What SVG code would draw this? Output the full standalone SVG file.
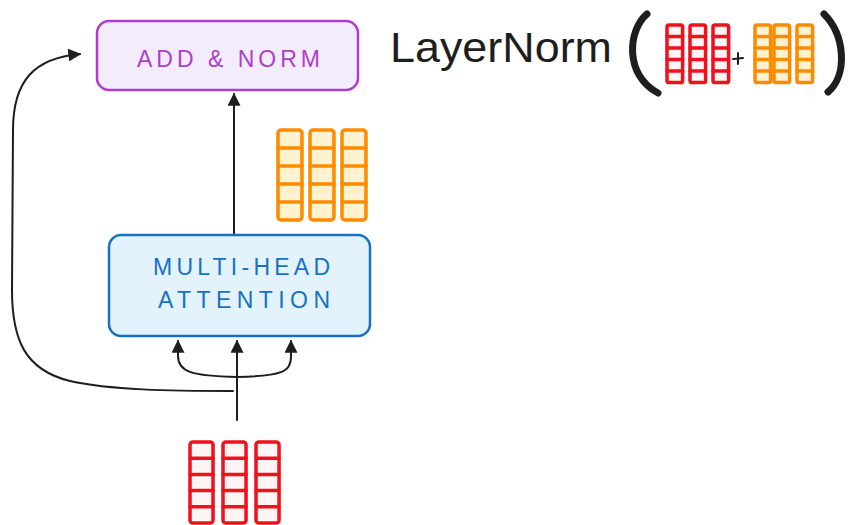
<svg xmlns="http://www.w3.org/2000/svg" width="849" height="525" viewBox="0 0 849 525">
<style>
.hand{font-family:"Liberation Sans","DejaVu Sans",sans-serif;}
.conn{fill:none;stroke:#1e1e1e;stroke-width:2;stroke-linecap:round;}
.red{fill:#fff5f5;stroke:#f0101e;}
.org{fill:#fff3cf;stroke:#fd8a00;}
.col{stroke-width:3.5;stroke-linecap:round;}
</style>
<defs>
<marker id="ah" viewBox="0 0 10 10" refX="9" refY="5" markerWidth="13" markerHeight="13" markerUnits="userSpaceOnUse" orient="auto">
<path d="M0,0 L10,5 L0,10 Z" fill="#1e1e1e"/>
</marker>
<g id="col" class="col">
<rect x="0" y="0" width="24" height="90" rx="3" vector-effect="non-scaling-stroke"/>
<line x1="0" y1="18" x2="24" y2="18" vector-effect="non-scaling-stroke"/>
<line x1="0" y1="36" x2="24" y2="36" vector-effect="non-scaling-stroke"/>
<line x1="0" y1="54" x2="24" y2="54" vector-effect="non-scaling-stroke"/>
<line x1="0" y1="72" x2="24" y2="72" vector-effect="non-scaling-stroke"/>
</g>
</defs>

<g id="connectors">
<path class="conn" d="M234 235 L234 94" stroke-width="3" marker-end="url(#ah)"/>
<path class="conn" d="M237 420 L237 341" marker-end="url(#ah)"/>
<path class="conn" d="M237 377 C192 376 178 372 178 356 L178 341" marker-end="url(#ah)"/>
<path class="conn" d="M237 377 C282 376 291 372 291 356 L291 341" marker-end="url(#ah)"/>
<path class="conn" d="M233 391 C170 391 110 390 70 381 C25 370 12 340 12 290 L13 130 C13 80 35 58 80 54" marker-end="url(#ah)"/>
</g>

<g id="add-norm">
<rect x="97" y="21" width="261" height="69" rx="12" fill="#f3ecfd" stroke="#ae3ec9" stroke-width="2.5"/>
<text class="hand" x="137" y="67" font-size="23" fill="#ae3ec9" textLength="183" lengthAdjust="spacing">ADD &amp; NORM</text>
</g>

<g id="multi-head-attention">
<rect x="109" y="235" width="261" height="101" rx="12" fill="#e3f3fd" stroke="#1971c2" stroke-width="2.5"/>
<text class="hand" x="153" y="275" font-size="23" fill="#1971c2" textLength="177" lengthAdjust="spacing">MULTI-HEAD</text>
<text class="hand" x="158" y="308" font-size="23" fill="#1971c2" textLength="172" lengthAdjust="spacing">ATTENTION</text>
</g>

<g id="attention-output">
<use href="#col" class="org" transform="translate(278,130)"/>
<use href="#col" class="org" transform="translate(310,130)"/>
<use href="#col" class="org" transform="translate(342,130)"/>
</g>

<g id="input-embeddings">
<use href="#col" class="red" transform="translate(190,442) scale(0.96,0.9)"/>
<use href="#col" class="red" transform="translate(223,442) scale(0.96,0.9)"/>
<use href="#col" class="red" transform="translate(256,442) scale(0.96,0.9)"/>
</g>

<g id="layernorm-formula">
<text class="hand" x="390" y="62" font-size="42" fill="#1e1e1e" textLength="222" lengthAdjust="spacingAndGlyphs">LayerNorm</text>
<path d="M647 14 C628 30 624 75 658 93" fill="none" stroke="#1e1e1e" stroke-width="7" stroke-linecap="round"/>
<path d="M824 14 C845 35 848 75 828 92" fill="none" stroke="#1e1e1e" stroke-width="7" stroke-linecap="round"/>
<use href="#col" class="red" transform="translate(667,25) scale(0.65,0.64)"/>
<use href="#col" class="red" transform="translate(690,25) scale(0.65,0.64)"/>
<use href="#col" class="red" transform="translate(713,25) scale(0.65,0.64)"/>
<path d="M733 59 L743 58 M738 53 L738 64" fill="none" stroke="#1e1e1e" stroke-width="2" stroke-linecap="round"/>
<use href="#col" class="org" transform="translate(755,25) scale(0.65,0.64)"/>
<use href="#col" class="org" transform="translate(774,25) scale(0.65,0.64)"/>
<use href="#col" class="org" transform="translate(797,25) scale(0.65,0.64)"/>
</g>
</svg>
